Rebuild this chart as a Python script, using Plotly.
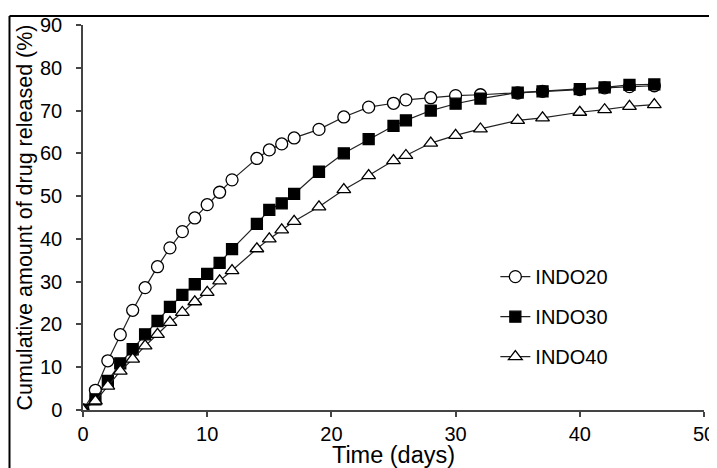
import plotly.graph_objects as go

# Time points (days)
t20 = [0, 1, 2, 3, 4, 5, 6, 7, 8, 9, 10, 11, 12, 14, 15, 16, 17, 19, 21, 23, 25, 26, 28, 30, 32, 35, 37, 40, 42, 44, 46]
indo20 = [0, 4.6, 11.5, 17.6, 23.3, 28.6, 33.5, 37.9, 41.7, 44.9, 48.0, 50.9, 53.8, 58.8, 60.8, 62.2, 63.6, 65.6, 68.5, 70.8, 71.7, 72.5, 73.0, 73.5, 73.7, 74.1, 74.5, 74.9, 75.3, 75.6, 75.8]

t30 = [0, 1, 2, 3, 4, 5, 6, 7, 8, 9, 10, 11, 12, 14, 15, 16, 17, 19, 21, 23, 25, 26, 28, 30, 32, 35, 37, 40, 42, 44, 46]
indo30 = [0, 2.5, 6.8, 10.9, 14.2, 17.7, 20.8, 24.1, 26.9, 29.4, 31.8, 34.4, 37.6, 43.5, 46.8, 48.3, 50.5, 55.7, 60.0, 63.3, 66.4, 67.7, 70.0, 71.6, 72.8, 74.2, 74.5, 75.0, 75.4, 76.0, 76.1]

t40 = [0, 1, 2, 3, 4, 5, 6, 7, 8, 9, 10, 11, 12, 14, 15, 16, 17, 19, 21, 23, 25, 26, 28, 30, 32, 35, 37, 40, 42, 44, 46]
indo40 = [0, 2.1, 5.6, 9.1, 11.9, 15.0, 17.7, 20.5, 22.8, 25.3, 27.5, 30.2, 32.6, 37.7, 40.0, 42.1, 44.1, 47.5, 51.5, 54.8, 58.3, 59.5, 62.4, 64.2, 65.7, 67.7, 68.3, 69.6, 70.2, 71.0, 71.4]

series_names = ["INDO20", "INDO30", "INDO40"]

x_ticks = [0, 10, 20, 30, 40, 50]
y_ticks = [0, 10, 20, 30, 40, 50, 60, 70, 80, 90]

FONT = "Liberation Sans, Arial, sans-serif"
LINE = "#222222"

# The page body has an 8px margin, so the figure is sized to fill the rest of the window
W, H = 709, 460
L, R, T, B = 75, 13, 17, 58
PW, PH = W - L - R, H - T - B

fig = go.Figure()

specs = [
    (t20, indo20, "circle", "white", 12),
    (t30, indo30, "square", "black", 11),
    (t40, indo40, "triangle-up", "white", 12),
]
for name, (xs, ys, sym, fill, sz) in zip(series_names, specs):
    fig.add_trace(go.Scatter(
        x=xs, y=ys, name=name, mode="lines+markers",
        legendgroup=name,
        line=dict(color=LINE, width=1.2),
        marker=dict(symbol=sym, size=sz, color=fill, line=dict(color="black", width=1.3)),
    ))

fig.update_layout(
    width=W, height=H,
    margin=dict(l=L, r=R, t=T, b=B, autoexpand=False),
    paper_bgcolor="white", plot_bgcolor="white",
    font=dict(family=FONT, size=19, color="black"),
    showlegend=True,
    legend=dict(
        x=0.664, y=0.397, xanchor="left", yanchor="top",
        bgcolor="rgba(0,0,0,0)", borderwidth=0,
        font=dict(family=FONT, size=20, color="black"),
        tracegroupgap=11, itemwidth=30,
    ),
    xaxis=dict(
        range=[0, 50], tickvals=x_ticks, ticks="outside", ticklen=5, tickwidth=1.5,
        tickcolor="#444", showline=True, linecolor="#444", linewidth=1.5,
        showgrid=False, zeroline=False, tickfont=dict(size=20), automargin=False,
        ticklabeloverflow="allow",
        title=dict(text="Time (days)", font=dict(size=23.5), standoff=8),
    ),
    yaxis=dict(
        range=[0, 90], tickvals=y_ticks, ticks="outside", ticklen=5, tickwidth=1.5,
        tickcolor="#444", showline=True, linecolor="#444", linewidth=1.5,
        showgrid=False, zeroline=False, tickfont=dict(size=20), automargin=False,
        ticklabelstandoff=10, ticklabeloverflow="allow",
        title=dict(text="Cumulative amount of drug released (%)", font=dict(size=21.5), standoff=1),
    ),
)

# Figure frame (top and left border of the original figure panel)
fx = (1.5 - L) / PW
fy = (H - B - 8) / PH
fig.add_shape(type="line", xref="paper", yref="paper",
              x0=fx, x1=1.05, y0=fy, y1=fy,
              line=dict(color="black", width=2))
fig.add_shape(type="line", xref="paper", yref="paper",
              x0=fx, x1=fx, y0=fy, y1=-0.2,
              line=dict(color="black", width=2))

fig.write_html("out.html")
